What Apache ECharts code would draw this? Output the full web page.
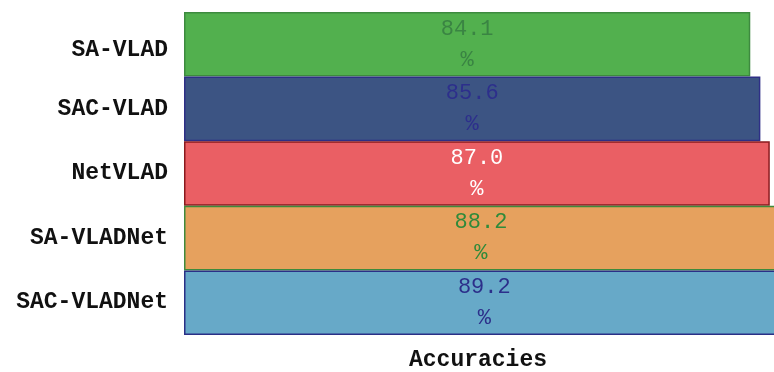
<!DOCTYPE html>
<html>
<head>
<meta charset="utf-8">
<script src="https://cdn.jsdelivr.net/npm/echarts@6/dist/echarts.min.js"></script>
<style>
  html, body { margin: 0; padding: 0; background: #ffffff; }
  #chart { width: 774px; height: 372px; }
</style>
</head>
<body>
<div id="chart"></div>
<script>
// Method names, top to bottom
const categories = ['SA-VLAD', 'SAC-VLAD', 'NetVLAD', 'SA-VLADNet', 'SAC-VLADNet'];
// Accuracy of each method (%)
const accuracies = [84.1, 85.6, 87.0, 88.2, 89.2];
const axisTitle = 'Accuracies';

// Visual styling per bar
const fillColors   = ['#52b04e', '#3c5483', '#ea5f64', '#e6a15e', '#67a9c8'];
const edgeColors   = ['#3d8a3f', '#2e2f86', '#8a1a1e', '#3f8a3c', '#2a2f86'];
const valueColors  = ['#3a8443', '#2d2f8c', '#ffffff', '#2f8a3a', '#2c2f8a'];

const FONT = '"Liberation Mono", "DejaVu Sans Mono", monospace';

const chart = echarts.init(document.getElementById('chart'));

chart.setOption({
  animation: false,
  backgroundColor: '#ffffff',
  grid: {
    left: 184, top: 12, width: 606, height: 323,
    containLabel: false,
    outerBoundsMode: 'none'
  },
  xAxis: {
    type: 'value',
    min: 0,
    max: 90,
    axisLine: { show: false },
    axisTick: { show: false },
    axisLabel: { show: false },
    splitLine: { show: false },
    name: axisTitle,
    nameLocation: 'middle',
    nameGap: 14,
    nameTextStyle: { fontFamily: FONT, fontSize: 23, fontWeight: 'bold', color: '#111111', padding: [0, 18, 0, 0] }
  },
  yAxis: {
    type: 'category',
    inverse: true,
    data: categories,
    axisLine: { show: false },
    axisTick: { show: false },
    axisLabel: {
      fontFamily: FONT, fontSize: 23, fontWeight: 'bold', color: '#111111', margin: 16,
      // the top label sits a little lower within its band
      formatter: (v, i) => i === 0 ? '{low|' + v + '}' : v,
      rich: {
        low: { fontFamily: FONT, fontSize: 23, fontWeight: 'bold', color: '#111111', padding: [12, 0, 0, 0] }
      }
    }
  },
  series: [{
    type: 'bar',
    barWidth: '100%',
    barCategoryGap: 0,
    clip: false,
    data: accuracies.map((v, i) => ({
      value: v,
      itemStyle: { color: fillColors[i], borderColor: edgeColors[i], borderWidth: 1.5 },
      label: { color: valueColors[i] }
    })),
    label: {
      show: true,
      position: 'inside',
      fontFamily: FONT,
      fontSize: 22,
      lineHeight: 31,
      formatter: p => p.value.toFixed(1) + '\n%'
    }
  }]
});
</script>
</body>
</html>
